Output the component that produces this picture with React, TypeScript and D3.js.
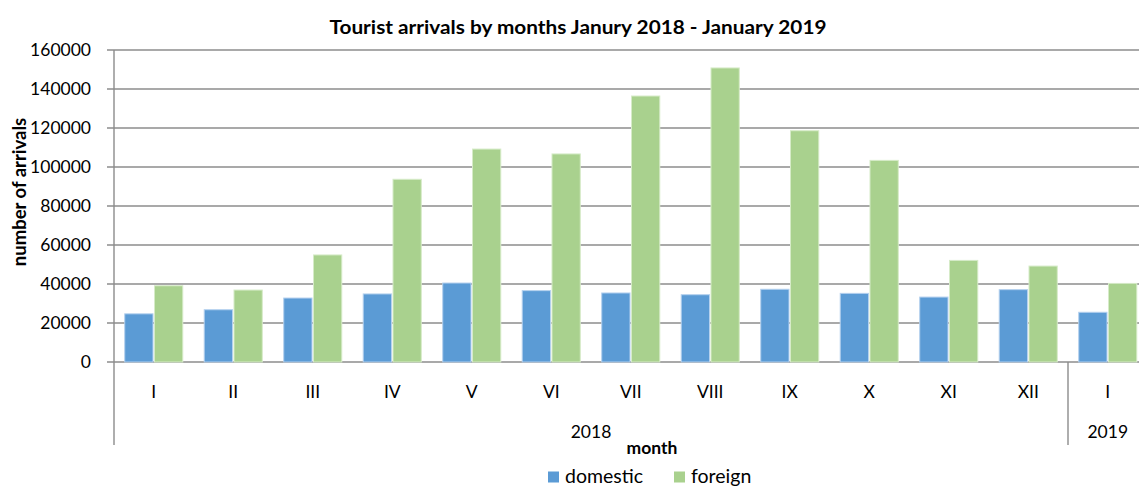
import React from "react";
import * as d3 from "d3";

const months = ["I", "II", "III", "IV", "V", "VI", "VII", "VIII", "IX", "X", "XI", "XII", "I"];
const domestic = [24700, 26800, 32800, 34900, 40500, 36600, 35400, 34500, 37300, 35200, 33300, 37100, 25500];
const foreign = [39100, 36900, 54900, 93700, 109200, 106700, 136400, 150800, 118600, 103400, 52100, 49200, 40300];
const yTicks = [0, 20000, 40000, 60000, 80000, 100000, 120000, 140000, 160000];
const years = [
  { label: "2018", from: 0, to: 11 },
  { label: "2019", from: 12, to: 12 },
];
const seriesNames = ["domestic", "foreign"];
const colors = ["#5b9bd5", "#a9d18e"];
const strokes = ["#b4d0ee", "#d6ebc8"];

const W = 1139;
const H = 486;
const left = 114;
const right = 1147.5;
const top = 50;
const bottom = 362;
const font = "Lato, 'Open Sans', sans-serif";

export default function App() {
  const idx = months.map((_, i) => String(i));
  const x = d3.scaleBand<string>().domain(idx).range([left, right]).paddingInner(0).paddingOuter(0);
  const inner = d3
    .scaleBand<string>()
    .domain(seriesNames)
    .range([0, x.bandwidth()])
    .paddingOuter(0.36)
    .paddingInner(0.05);
  const y = d3.scaleLinear().domain([0, 160000]).range([bottom, top]);
  const data = [domestic, foreign];
  const axisBottom = 445;

  return (
    <svg width={W} height={H} style={{ position: "absolute", left: 0, top: 0, background: "#fff" }}>
      <rect x={0} y={0} width={W} height={H} fill="#fff" />
      <text
        x={578}
        y={34}
        textAnchor="middle"
        fontFamily={font}
        fontWeight="bold"
        fontSize={19}
        textLength={497}
        lengthAdjust="spacingAndGlyphs"
        fill="#000"
      >
        Tourist arrivals by months Janury 2018 - January 2019
      </text>
      {yTicks.map((t) => (
        <g key={t}>
          <line x1={107} x2={W} y1={y(t)} y2={y(t)} stroke="#8c8c8c" strokeWidth={1.4} />
          <text x={91} y={y(t) + 6} textAnchor="end" fontFamily={font} fontSize={17.5} fill="#000">
            {t}
          </text>
        </g>
      ))}
      {data.map((vals, s) =>
        vals.map((v, i) => (
          <rect
            key={`${s}-${i}`}
            x={(x(String(i)) as number) + (inner(seriesNames[s]) as number)}
            y={y(v)}
            width={inner.bandwidth()}
            height={bottom - y(v)}
            fill={colors[s]}
            stroke={strokes[s]}
            strokeWidth={1}
          />
        ))
      )}
      <line x1={left} x2={left} y1={top} y2={axisBottom} stroke="#8c8c8c" strokeWidth={1.4} />
      {years.slice(1).map((yr) => (
        <line
          key={yr.label}
          x1={x(String(yr.from)) as number}
          x2={x(String(yr.from)) as number}
          y1={bottom}
          y2={axisBottom}
          stroke="#8c8c8c"
          strokeWidth={1.4}
        />
      ))}
      {months.map((m, i) => (
        <text
          key={i}
          x={(x(String(i)) as number) + x.bandwidth() / 2}
          y={398}
          textAnchor="middle"
          fontFamily={font}
          fontSize={17.5}
          fill="#000"
        >
          {m}
        </text>
      ))}
      {years.map((yr) => (
        <text
          key={yr.label}
          x={((x(String(yr.from)) as number) + (x(String(yr.to)) as number) + x.bandwidth()) / 2}
          y={438}
          textAnchor="middle"
          fontFamily={font}
          fontSize={17.5}
          fill="#000"
        >
          {yr.label}
        </text>
      ))}
      <text x={652} y={454} textAnchor="middle" fontFamily={font} fontWeight="bold" fontSize={17.5} fill="#000">
        month
      </text>
      <text
        transform={`translate(26,192) rotate(-90)`}
        textAnchor="middle"
        fontFamily={font}
        fontWeight="bold"
        fontSize={18.5}
        fill="#000"
      >
        number of arrivals
      </text>
      {seriesNames.map((n, s) => {
        const lx = [548, 674][s];
        return (
          <g key={n}>
            <rect x={lx} y={471.5} width={11} height={11} fill={colors[s]} />
            <text x={lx + 17} y={483} fontFamily={font} fontSize={19.5} fill="#000">
              {n}
            </text>
          </g>
        );
      })}
    </svg>
  );
}
